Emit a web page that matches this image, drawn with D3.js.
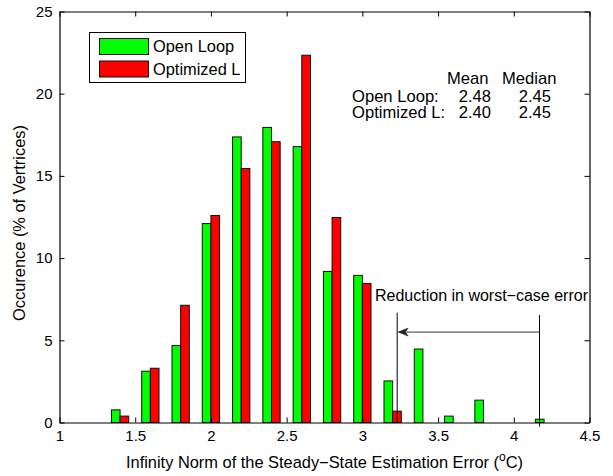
<!DOCTYPE html>
<html>
<head>
<meta charset="utf-8">
<script src="https://cdn.jsdelivr.net/npm/d3@7"></script>
<style>
  html, body { margin: 0; padding: 0; background: #fff; }
  svg { display: block; font-family: "Liberation Sans", Arial, Helvetica, sans-serif; }
</style>
</head>
<body>
<svg id="chart" width="613" height="476"></svg>
<script>
// Histogram bins (centre of each 0.2-wide bin of the error norm, °C)
const bins = [1.4, 1.6, 1.8, 2.0, 2.2, 2.4, 2.6, 2.8, 3.0, 3.2, 3.4, 3.6, 3.8, 4.0, 4.2];
// Occurrence (% of vertices) per bin
const openLoop  = [0.77, 3.12, 4.68, 12.10, 17.37, 17.95, 16.78, 9.19, 8.95, 2.53, 4.47, 0.39, 1.36, 0, 0.20];
const optimized = [0.39, 3.30, 7.13, 12.59, 15.45, 17.08, 22.34, 12.47, 8.46, 0.69, 0, 0, 0, 0, 0];
const seriesNames = ["Open Loop", "Optimized L"];
const seriesColors = ["#00ff00", "#ff0000"];

// Axis ticks
const xTicks = [1, 1.5, 2, 2.5, 3, 3.5, 4, 4.5];
const yTicks = [0, 5, 10, 15, 20, 25];

// Summary statistics table
const statHeader = ["Mean", "Median"];
const statRows = [
  { name: "Open Loop:",   mean: "2.48", median: "2.45" },
  { name: "Optimized L:", mean: "2.40", median: "2.45" }
];

// Worst-case error of each estimator (°C): from open loop to optimized
const worstCase = { from: 4.17, to: 3.23 };
const annotationText = "Reduction in worst\u2212case error";

const svg = d3.select("#chart");
const plotL = 59.5, plotR = 589.5, plotT = 11.5, plotB = 422.5;
const textSize = "16.4px";

const x = d3.scaleLinear().domain([1, 4.5]).range([plotL, plotR]);
const y = d3.scaleLinear().domain([0, 25]).range([plotB, plotT]);

// Grouped bars: two bars side by side in each 0.2 bin
const binWidth = 0.2;
const barW = binWidth * 2 / 7;   // each bar ~0.057 units wide
const groups = [openLoop, optimized];

const barLayer = svg.append("g");
groups.forEach((vals, si) => {
  const data = bins.map((b, i) => ({ b, v: vals[i] })).filter(d => d.v > 0);
  barLayer.selectAll(null)
    .data(data)
    .enter().append("rect")
    .attr("x", d => x(d.b + (si - 1) * barW))
    .attr("y", d => y(d.v))
    .attr("width", d => x(d.b + si * barW) - x(d.b + (si - 1) * barW))
    .attr("height", d => y(0) - y(d.v))
    .attr("fill", seriesColors[si])
    .attr("stroke", "#111")
    .attr("stroke-width", 1);
});

// Axes with inward ticks on all four sides
const tickFont = "15px";
const gB = svg.append("g").attr("transform", `translate(0,${plotB})`)
  .call(d3.axisBottom(x).tickValues(xTicks).tickFormat(d3.format("")).tickSize(-5).tickSizeOuter(0).tickPadding(8));
const gT = svg.append("g").attr("transform", `translate(0,${plotT})`)
  .call(d3.axisTop(x).tickValues(xTicks).tickFormat("").tickSize(-5).tickSizeOuter(0));
const gL = svg.append("g").attr("transform", `translate(${plotL},0)`)
  .call(d3.axisLeft(y).tickValues(yTicks).tickSize(-5).tickSizeOuter(0).tickPadding(7));
const gR = svg.append("g").attr("transform", `translate(${plotR},0)`)
  .call(d3.axisRight(y).tickValues(yTicks).tickFormat("").tickSize(-5).tickSizeOuter(0));

[gB, gT, gL, gR].forEach(g => {
  g.selectAll(".domain").attr("stroke", "#000").attr("stroke-width", 1.2);
  g.selectAll(".tick line").attr("stroke", "#000");
  g.selectAll(".tick text").attr("fill", "#000").style("font-size", tickFont)
    .style("font-family", "'Liberation Sans', Arial, sans-serif");
});

// Axis titles
const xTitle = svg.append("text")
  .attr("x", (plotL + plotR) / 2).attr("y", 468)
  .attr("text-anchor", "middle").style("font-size", textSize);
xTitle.append("tspan").text("Infinity Norm of the Steady\u2212State Estimation Error (");
xTitle.append("tspan").attr("dy", -7).style("font-size", "12px").text("o");
xTitle.append("tspan").attr("dy", 7).text("C)");

svg.append("text")
  .attr("transform", `translate(25,223) rotate(-90)`)
  .attr("text-anchor", "middle").style("font-size", textSize)
  .text("Occurence (% of Vertrices)");

// Legend
const legend = svg.append("g");
legend.append("rect").attr("x", 89.5).attr("y", 32.5).attr("width", 156).attr("height", 50)
  .attr("fill", "#fff").attr("stroke", "#000").attr("stroke-width", 1);
seriesNames.forEach((n, i) => {
  const yy = 38.5 + i * 22.5;
  legend.append("rect").attr("x", 99.5).attr("y", yy).attr("width", 49).attr("height", 16)
    .attr("fill", seriesColors[i]).attr("stroke", "#111");
  legend.append("text").attr("x", 153).attr("y", yy + 8).attr("dy", "0.35em")
    .style("font-size", textSize).text(n);
});

// Statistics table
const stats = svg.append("g").style("font-size", "16.6px");
stats.append("text").attr("x", 447).attr("y", 84).text(statHeader[0]);
stats.append("text").attr("x", 502).attr("y", 84).text(statHeader[1]);
statRows.forEach((r, i) => {
  const yy = 102 + i * 15.5;
  stats.append("text").attr("x", 352).attr("y", yy).text(r.name);
  stats.append("text").attr("x", 491).attr("y", yy).attr("text-anchor", "end").text(r.mean);
  stats.append("text").attr("x", 551).attr("y", yy).attr("text-anchor", "end").text(r.median);
});

// Worst-case reduction annotation
const ann = svg.append("g");
ann.append("text").attr("x", 375).attr("y", 300.5).style("font-size", "16px").text(annotationText);
ann.append("line").attr("x1", x(worstCase.to)).attr("x2", x(worstCase.to))
  .attr("y1", y(6.68)).attr("y2", y(0)).attr("stroke", "#000");
ann.append("line").attr("x1", x(worstCase.from)).attr("x2", x(worstCase.from))
  .attr("y1", y(6.54)).attr("y2", y(0) + 4).attr("stroke", "#000");
const ay = y(5.5);
ann.append("line").attr("x1", x(worstCase.from)).attr("x2", x(worstCase.to) + 2)
  .attr("y1", ay).attr("y2", ay).attr("stroke", "#333");
const tipX = x(worstCase.to) + 1;
ann.append("path")
  .attr("d", `M${tipX},${ay} L${tipX + 10},${ay - 4} L${tipX + 7},${ay} L${tipX + 10},${ay + 4} Z`)
  .attr("fill", "#222").attr("stroke", "#222").attr("stroke-width", 0.6);
</script>
</body>
</html>
